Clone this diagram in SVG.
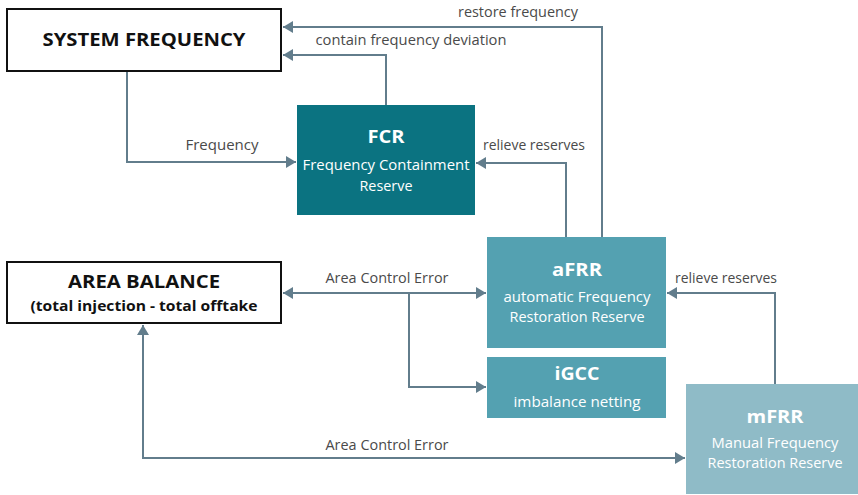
<svg xmlns="http://www.w3.org/2000/svg" width="858" height="495" viewBox="0 0 858 495">
<style>
.box{fill:#fff;stroke:#111;stroke-width:2}
.t{font-family:"Open Sans","Liberation Sans",sans-serif;text-anchor:middle}
.h{font-weight:bold;fill:#111}
.w{fill:#fff}
.wb{fill:#fff;font-weight:bold;font-size:18px}
.lab{fill:#4a4a4a;font-size:14px}
.c{fill:none;stroke:#627D8C;stroke-width:2}
</style>
<defs>
<marker id="ah" viewBox="0 0 10 12" refX="10" refY="6" markerWidth="10" markerHeight="12" markerUnits="userSpaceOnUse" orient="auto-start-reverse">
<path d="M0,0 L10,6 L0,12 Z" fill="#627D8C"/>
</marker>
</defs>
<rect width="858" height="495" fill="#fff"/>
<g id="connectors">
<path class="c" d="M602,237 V27 H283" marker-end="url(#ah)"/>
<path class="c" d="M386,105 V55 H283" marker-end="url(#ah)"/>
<path class="c" d="M127,72 V162 H296" marker-end="url(#ah)"/>
<path class="c" d="M566,237 V163 H476" marker-end="url(#ah)"/>
<path class="c" d="M283,293 H486" marker-start="url(#ah)" marker-end="url(#ah)"/>
<path class="c" d="M409,293 V387 H486"/>
<path class="c" d="M409,387 H486" marker-end="url(#ah)"/>
<path class="c" d="M775,384 V293 H667" marker-end="url(#ah)"/>
<path class="c" d="M685,458 H143 V325" marker-start="url(#ah)" marker-end="url(#ah)"/>
<text class="t lab" x="518" y="17" textLength="120" lengthAdjust="spacingAndGlyphs">restore frequency</text>
<text class="t lab" x="411" y="45" textLength="191" lengthAdjust="spacingAndGlyphs">contain frequency deviation</text>
<text class="t lab" x="222" y="150" textLength="73" lengthAdjust="spacingAndGlyphs">Frequency</text>
<text class="t lab" x="534" y="150" textLength="102" lengthAdjust="spacingAndGlyphs">relieve reserves</text>
<text class="t lab" x="387" y="283" textLength="123" lengthAdjust="spacingAndGlyphs">Area Control Error</text>
<text class="t lab" x="726" y="283" textLength="102" lengthAdjust="spacingAndGlyphs">relieve reserves</text>
<text class="t lab" x="387" y="450" textLength="123" lengthAdjust="spacingAndGlyphs">Area Control Error</text>
</g>
<g id="system-frequency">
<rect class="box" x="7" y="9" width="274" height="62"/>
<text class="t h" x="144" y="46" font-size="18" textLength="203" lengthAdjust="spacingAndGlyphs">SYSTEM FREQUENCY</text>
</g>
<g id="area-balance">
<rect class="box" x="7" y="262" width="274" height="61"/>
<text class="t h" x="144" y="288" font-size="18" textLength="152" lengthAdjust="spacingAndGlyphs">AREA BALANCE</text>
<text class="t h" x="144" y="311" font-size="14" textLength="227" lengthAdjust="spacingAndGlyphs">(total injection - total offtake</text>
</g>
<g id="fcr">
<rect x="297" y="105" width="178" height="110" fill="#0B7381"/>
<text class="t wb" x="386" y="143" textLength="37" lengthAdjust="spacingAndGlyphs">FCR</text>
<text class="t w" x="386" y="170" font-size="14" textLength="167" lengthAdjust="spacingAndGlyphs">Frequency Containment</text>
<text class="t w" x="386" y="191" font-size="14" textLength="53" lengthAdjust="spacingAndGlyphs">Reserve</text>
</g>
<g id="afrr">
<rect x="487" y="237" width="179" height="111" fill="#54A1B1"/>
<text class="t wb" x="577" y="276" textLength="50" lengthAdjust="spacingAndGlyphs">aFRR</text>
<text class="t w" x="577" y="302" font-size="14" textLength="147" lengthAdjust="spacingAndGlyphs">automatic Frequency</text>
<text class="t w" x="577" y="322" font-size="14" textLength="135" lengthAdjust="spacingAndGlyphs">Restoration Reserve</text>
</g>
<g id="igcc">
<rect x="487" y="357" width="179" height="61" fill="#54A1B1"/>
<text class="t wb" x="577" y="380" textLength="45" lengthAdjust="spacingAndGlyphs">iGCC</text>
<text class="t w" x="577" y="407" font-size="14" textLength="127" lengthAdjust="spacingAndGlyphs">imbalance netting</text>
</g>
<g id="mfrr">
<rect x="686" y="384" width="172" height="110" fill="#8FBBC7"/>
<text class="t wb" x="775" y="423" textLength="57" lengthAdjust="spacingAndGlyphs">mFRR</text>
<text class="t w" x="775" y="448" font-size="14" textLength="127" lengthAdjust="spacingAndGlyphs">Manual Frequency</text>
<text class="t w" x="775" y="468" font-size="14" textLength="135" lengthAdjust="spacingAndGlyphs">Restoration Reserve</text>
</g>
</svg>
